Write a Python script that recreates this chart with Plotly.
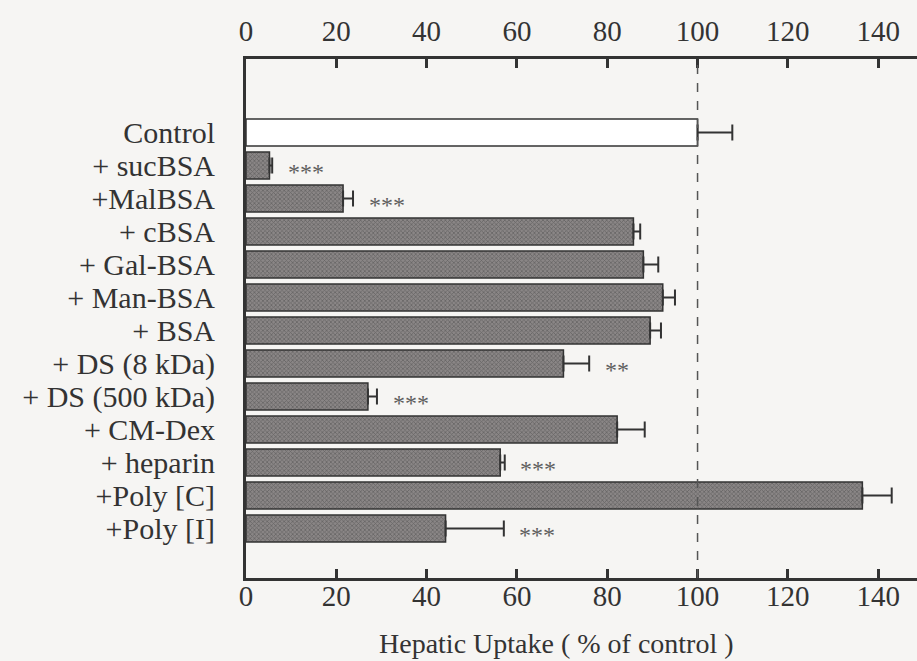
import plotly.graph_objects as go

# Hepatic uptake with competitors (% of control)
categories = ["Control", "+ sucBSA", "+MalBSA", "+ cBSA", "+ Gal-BSA", "+ Man-BSA",
              "+ BSA", "+ DS (8 kDa)", "+ DS (500 kDa)", "+ CM-Dex", "+ heparin",
              "+Poly [C]", "+Poly [I]"]
uptake = [100, 5.2, 21.5, 85.8, 88.0, 92.3, 89.5, 70.3, 27.0, 82.2, 56.3, 136.5, 44.2]
uptake_err = [7.7, 0.6, 2.2, 1.5, 3.3, 2.7, 2.4, 5.7, 2.0, 6.1, 1.0, 6.5, 12.9]
significance = ["", "***", "***", "", "", "", "", "**", "***", "", "***", "", "***"]
x_ticks = [0, 20, 40, 60, 80, 100, 120, 140]

FONT = "Liberation Serif"
INK = "#333333"
BG = "#f6f5f3"

pos = list(range(len(categories)))
fill = ["#ffffff" if c == "Control" else "#8a8686" for c in categories]
pattern = ["" if c == "Control" else "x" for c in categories]

fig = go.Figure()
fig.add_trace(go.Bar(
    x=uptake, y=pos, orientation="h", width=0.82,
    marker=dict(color=fill, line=dict(color=INK, width=1.5),
                pattern=dict(shape=pattern, size=3, solidity=0.45,
                             fgcolor="#4a4646", fillmode="overlay")),
    error_x=dict(type="data", symmetric=False, array=uptake_err,
                 arrayminus=[0] * len(uptake_err), color=INK,
                 thickness=2, width=8),
    showlegend=False,
))

# significance marks to the right of each error bar
for i, s in enumerate(significance):
    if s:
        fig.add_annotation(x=uptake[i] + uptake_err[i] + 3, y=i, text=s,
                           xanchor="left", yanchor="middle", showarrow=False,
                           yshift=-6, font=dict(family=FONT, size=24, color="#5e5e5e"))

# reference line at 100 %
fig.add_shape(type="line", x0=100, x1=100, y0=0, y1=1, xref="x", yref="y domain",
              line=dict(color="#555555", width=1.5, dash="dash"))

# axis title, centred a little left of the plot centre
fig.add_annotation(x=(556 - 246) / (917 - 246), y=-(643 - 578) / (578 - 59),
                   xref="paper", yref="paper",
                   text="Hepatic Uptake ( % of control )", showarrow=False,
                   yanchor="middle", font=dict(family=FONT, size=28, color=INK))

axis_common = dict(range=[0, 148.6], tickvals=x_ticks, ticks="inside", ticklen=9,
                   tickwidth=2.5, tickcolor=INK, showline=True, linecolor=INK,
                   linewidth=3, showgrid=False, zeroline=False,
                   tickfont=dict(family=FONT, size=29, color=INK))

fig.update_layout(
    width=917, height=661,
    margin=dict(l=246, r=0, t=59, b=83),
    paper_bgcolor=BG, plot_bgcolor=BG,
    xaxis=dict(**axis_common, side="bottom", ticklabelstandoff=-10),
    xaxis2=dict(**axis_common, side="top", overlaying="x", matches="x",
                ticklabelstandoff=3),
    yaxis=dict(range=[13.5, -2.23], tickvals=pos, ticktext=categories,
               showline=True, linecolor=INK, linewidth=3, ticks="",
               showgrid=False, zeroline=False, ticklabelstandoff=22,
               tickfont=dict(family=FONT, size=30, color=INK)),
)
# invisible trace so the top axis is drawn
fig.add_trace(go.Scatter(x=[0], y=[0], xaxis="x2", mode="markers",
                         marker=dict(opacity=0), showlegend=False, hoverinfo="skip"))

fig.write_html("out.html")
